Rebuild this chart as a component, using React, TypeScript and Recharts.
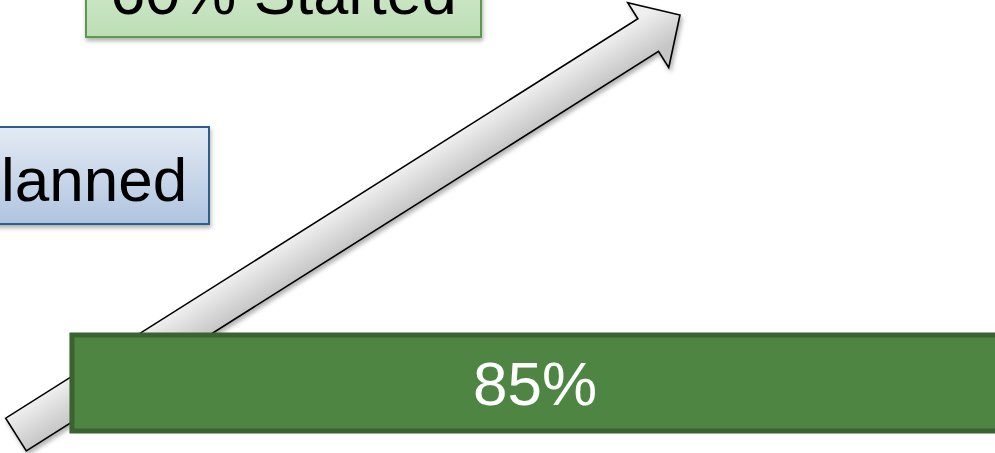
import React from 'react';
import { ComposedChart, Bar, XAxis, YAxis, ReferenceArea, ReferenceLine, LabelList } from 'recharts';

// ---- data ----
const categories = ['Progress'];
const progressValues = [85];
const progressLabels = ['85%'];
const statusLabels = ['Planned', '60% Started'];

const data = categories.map((name, i) => ({ name, value: progressValues[i], label: progressLabels[i] }));

// ---- layout / style constants ----
const W = 995;
const H = 453;
const FONT = '"Liberation Sans", Arial, Helvetica, sans-serif';

const boxes = [
  { text: statusLabels[0], x1: -62, x2: 209, y1: 127, y2: 224, top: '#e4ebf4', bottom: '#afc4df', stroke: '#2d5e8b', size: 62 },
  { text: statusLabels[1], x1: 86, x2: 481, y1: -60, y2: 37, top: '#dcefd7', bottom: '#bddeb5', stroke: '#5a9a4d', size: 63 },
];

const arrowSegment = [
  { x: 16, y: 434.5 },
  { x: 680, y: 15 },
];

const ArrowShape = (props: any) => {
  const { x1, y1, x2, y2 } = props;
  if ([x1, y1, x2, y2].some((v) => typeof v !== 'number' || isNaN(v))) return null;
  const dx = x2 - x1;
  const dy = y2 - y1;
  const len = Math.sqrt(dx * dx + dy * dy);
  const ux = dx / len;
  const uy = dy / len;
  const nx = -uy;
  const ny = ux;
  const shaftHalf = 19.3;
  const headHalf = 38.4;
  const headLen = 37.6;
  const bx = x2 - ux * headLen;
  const by = y2 - uy * headLen;
  const pts = [
    [x1 + nx * shaftHalf, y1 + ny * shaftHalf],
    [bx + nx * shaftHalf, by + ny * shaftHalf],
    [bx + nx * headHalf, by + ny * headHalf],
    [x2, y2],
    [bx - nx * headHalf, by - ny * headHalf],
    [bx - nx * shaftHalf, by - ny * shaftHalf],
    [x1 - nx * shaftHalf, y1 - ny * shaftHalf],
  ];
  const d = 'M' + pts.map((p) => `${p[0].toFixed(2)},${p[1].toFixed(2)}`).join(' L') + ' Z';
  return (
    <g>
      <defs>
        <linearGradient
          id="arrowGrad"
          gradientUnits="userSpaceOnUse"
          x1={x1 - nx * shaftHalf}
          y1={y1 - ny * shaftHalf}
          x2={x1 + nx * shaftHalf}
          y2={y1 + ny * shaftHalf}
        >
          <stop offset="0%" stopColor="#efefef" />
          <stop offset="100%" stopColor="#c6c6c6" />
        </linearGradient>
        <filter id="arrowShadow" x="-10%" y="-10%" width="120%" height="120%">
          <feDropShadow dx="2" dy="3" stdDeviation="2" floodColor="#000" floodOpacity="0.3" />
        </filter>
      </defs>
      <path d={d} fill="url(#arrowGrad)" stroke="#000" strokeWidth={1.6} strokeLinejoin="miter" filter="url(#arrowShadow)" />
    </g>
  );
};

const makeBoxShape = (box: any, idx: number) => (props: any) => {
  const { x, y, width, height } = props;
  if ([x, y, width, height].some((v) => typeof v !== 'number' || isNaN(v))) return null;
  const gid = `boxGrad${idx}`;
  const fid = `boxShadow${idx}`;
  return (
    <g>
      <defs>
        <linearGradient id={gid} x1="0" y1="0" x2="0" y2="1">
          <stop offset="0%" stopColor={box.top} />
          <stop offset="100%" stopColor={box.bottom} />
        </linearGradient>
        <filter id={fid} x="-10%" y="-20%" width="120%" height="150%">
          <feDropShadow dx="1" dy="3" stdDeviation="2" floodColor="#000" floodOpacity="0.3" />
        </filter>
      </defs>
      <rect x={x} y={y} width={width} height={height} fill={`url(#${gid})`} stroke={box.stroke} strokeWidth={2} filter={`url(#${fid})`} />
      <text
        x={x + width / 2}
        y={y + height - 23}
        textAnchor="middle"
        fontFamily={FONT}
        fontSize={box.size}
        fill="#000"
      >
        {box.text}
      </text>
    </g>
  );
};

const layer: React.CSSProperties = { position: 'absolute', left: 0, top: 0, width: W, height: H };

export default function App() {
  return (
    <div style={{ ...layer, background: '#fff' }}>
      <div style={layer}>
        <ComposedChart width={W} height={H} data={arrowSegment} margin={{ top: 0, right: 0, bottom: 0, left: 0 }}>
          <XAxis type="number" dataKey="x" domain={[0, W]} allowDataOverflow hide />
          <YAxis type="number" dataKey="y" domain={[0, H]} reversed allowDataOverflow hide />
          <ReferenceLine segment={arrowSegment} ifOverflow="visible" shape={ArrowShape} />
          {boxes.map((b, i) => (
            <ReferenceArea
              key={b.text}
              x1={b.x1}
              x2={b.x2}
              y1={b.y1}
              y2={b.y2}
              ifOverflow="visible"
              shape={makeBoxShape(b, i)}
            />
          ))}
        </ComposedChart>
      </div>
      <div style={layer}>
        <ComposedChart
          width={W}
          height={H}
          data={data}
          layout="vertical"
          margin={{ top: 0, right: 0, bottom: 0, left: 0 }}
        >
          <XAxis type="number" domain={[-6.6, 84.7]} allowDataOverflow hide />
          <YAxis type="category" dataKey="name" padding={{ top: 312, bottom: 0 }} hide />
          <Bar
            dataKey="value"
            barSize={96}
            fill="#4e8542"
            stroke="#3b6230"
            strokeWidth={5}
            isAnimationActive={false}
          >
            <LabelList dataKey="label" position="center" fill="#ffffff" fontSize={62} fontFamily={FONT} />
          </Bar>
        </ComposedChart>
      </div>
    </div>
  );
}
